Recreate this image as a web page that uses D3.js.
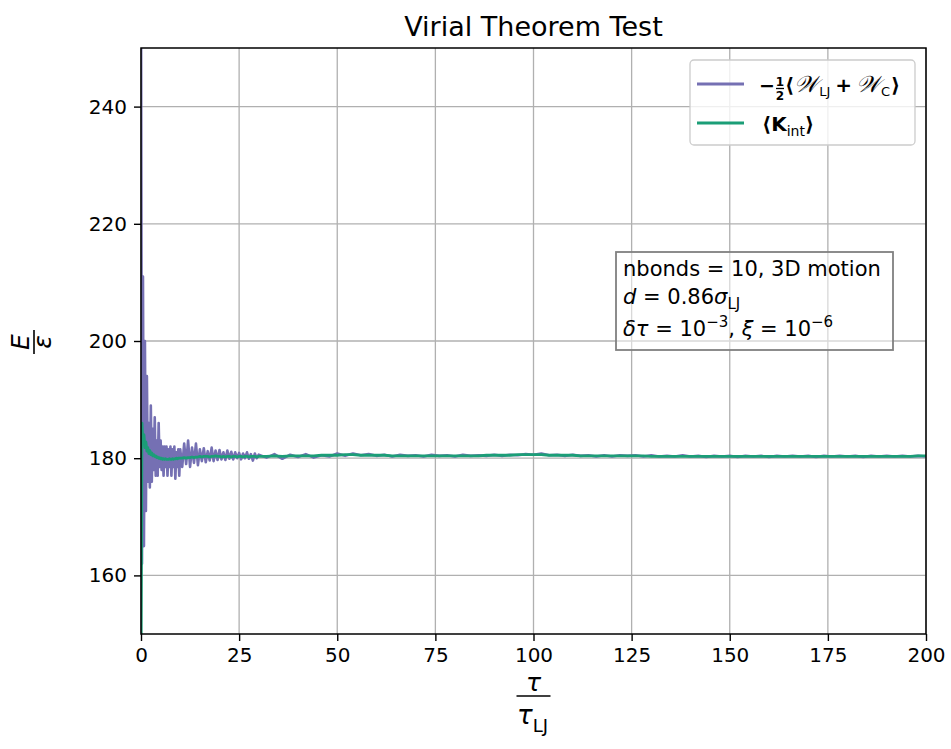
<!DOCTYPE html>
<html lang="en">
<head>
<meta charset="utf-8">
<title>Virial Theorem Test</title>
<script src="https://cdn.jsdelivr.net/npm/d3@7"></script>
<style>
  body { margin: 0; background: #fff; }
  text { font-family: "DejaVu Sans", sans-serif; }
</style>
</head>
<body>
<script>
var w = 951, h = 749;
var margin = {top: 48, right: 25, bottom: 115, left: 141};

// sampling times (tau / tau_LJ), three segments
var tEarly = d3.range(0, 10.001, 0.25);
var tMid = d3.range(10.5, 30.001, 0.5);
var tLate = d3.range(32, 200.001, 2);

// -1/2 <W_LJ + W_C>
var purpleEarly = [262,162,211,165,200,171,194,176,186,175,
  189,176,185,178,187,177,183,177,186,178.5,
  183,178,182,177,182,178.5,182,177,181.5,178.5,
  182,177,181.5,178.5,182,176.5,181,178.5,181.5,177,
  181.5];
var purpleMid = [178.5,182.5,179,183,178.5,181.8,179.2,182.5,178.8,181.5,
  179.5,181.7,179.3,181.2,179.6,181.8,179.5,181.3,179.7,181.4,
  179.8,181.0,179.7,181.3,179.9,181.1,179.8,181.0,180.0,180.9,
  179.8,180.8,180.0,181.0,179.9,180.7,179.6,180.8,180.0,180.6];
var purpleLate = [180.1,180.7,179.9,180.6,180.2,180.7,180.1,180.5,180.3,180.8,
  180.4,180.8,180.5,180.7,180.4,180.6,180.3,180.6,180.4,180.5,
  180.3,180.6,180.4,180.5,180.3,180.6,180.4,180.5,180.4,180.6,
  180.4,180.6,180.5,180.7,180.6,180.8,180.5,180.6,180.4,180.6,
  180.4,180.5,180.3,180.5,180.3,180.5,180.4,180.5,180.3,180.5,
  180.3,180.4,180.3,180.5,180.3,180.4,180.2,180.4,180.3,180.4,
  180.2,180.4,180.3,180.4,180.2,180.4,180.3,180.4,180.3,180.4,
  180.2,180.4,180.3,180.4,180.3,180.4,180.2,180.4,180.3,180.4,
  180.3,180.4,180.3,180.4,180.3];

// <K_int>
var greenEarly = [140,186,182.5,184,181.8,182.8,181.2,181.8,180.8,181.3,
  180.6,180.9,180.4,180.6,180.3,180.4,180.1,180.2,180.0,180.1,
  179.9,180.0,179.8,179.9,179.8,179.9,179.8,179.8,179.8,179.9,
  179.8,179.8,179.9,179.8,179.9,179.9,180.0,179.9,180.0,180.0,
  180.0];
var greenMid = [180.0,180.1,180.0,180.1,180.1,180.2,180.1,180.2,180.2,180.3,
  180.2,180.3,180.3,180.3,180.2,180.3,180.3,180.4,180.3,180.3,
  180.2,180.3,180.2,180.3,180.3,180.2,180.3,180.3,180.2,180.3,
  180.3,180.2,180.3,180.3,180.2,180.3,180.3,180.3,180.2,180.3];
var greenLate = [180.3,180.4,180.3,180.4,180.4,180.4,180.4,180.5,180.5,180.5,
  180.6,180.6,180.5,180.5,180.5,180.5,180.4,180.4,180.4,180.4,
  180.4,180.4,180.4,180.4,180.4,180.4,180.4,180.4,180.5,180.5,
  180.5,180.5,180.6,180.6,180.6,180.6,180.5,180.5,180.5,180.5,
  180.4,180.4,180.4,180.4,180.4,180.4,180.4,180.4,180.4,180.3,
  180.3,180.3,180.3,180.3,180.3,180.3,180.3,180.3,180.3,180.3,
  180.3,180.3,180.3,180.3,180.3,180.3,180.3,180.3,180.3,180.3,
  180.3,180.3,180.3,180.3,180.3,180.3,180.3,180.3,180.3,180.3,
  180.3,180.3,180.3,180.4,180.4];

var xTicks = [0, 25, 50, 75, 100, 125, 150, 175, 200];
var yTicks = [160, 180, 200, 220, 240];

var purpleColor = "#7570b3", greenColor = "#1b9e77";

function zip(ts, vs) {
  var out = [];
  for (var i = 0; i < Math.min(ts.length, vs.length); i++) out.push([ts[i], vs[i]]);
  return out;
}
var times = tEarly.concat(tMid, tLate);
var purple = zip(times, purpleEarly.concat(purpleMid, purpleLate));
var green = zip(times, greenEarly.concat(greenMid, greenLate));

var xScale = d3.scaleLinear().domain([0, 200]).range([margin.left, w - margin.right]);
var yScale = d3.scaleLinear().domain([150, 250]).range([h - margin.bottom, margin.top]);

var svg = d3.select("body").append("svg")
  .attr("width", w).attr("height", h);

svg.append("defs").append("clipPath").attr("id", "plotclip")
  .append("rect")
  .attr("x", margin.left).attr("y", margin.top)
  .attr("width", w - margin.left - margin.right)
  .attr("height", h - margin.top - margin.bottom);

// grid
svg.append("g").selectAll("line").data(xTicks).enter().append("line")
  .attr("x1", d => xScale(d)).attr("x2", d => xScale(d))
  .attr("y1", margin.top).attr("y2", h - margin.bottom)
  .attr("stroke", "#b0b0b0").attr("stroke-width", 1.3);
svg.append("g").selectAll("line").data(yTicks).enter().append("line")
  .attr("y1", d => yScale(d)).attr("y2", d => yScale(d))
  .attr("x1", margin.left).attr("x2", w - margin.right)
  .attr("stroke", "#b0b0b0").attr("stroke-width", 1.3);

// series
var line = d3.line().x(d => xScale(d[0])).y(d => yScale(d[1]));
var plot = svg.append("g").attr("clip-path", "url(#plotclip)");
plot.append("path").datum(purple).attr("d", line)
  .attr("fill", "none").attr("stroke", purpleColor).attr("stroke-width", 2.6)
  .attr("stroke-linejoin", "round");
plot.append("path").datum(green).attr("d", line)
  .attr("fill", "none").attr("stroke", greenColor).attr("stroke-width", 2.8)
  .attr("stroke-linejoin", "round");

// axes
var xAxis = d3.axisBottom(xScale).tickValues(xTicks).tickSize(7).tickPadding(7);
var yAxis = d3.axisLeft(yScale).tickValues(yTicks).tickSize(7).tickPadding(7);
var gx = svg.append("g").attr("transform", "translate(0," + (h - margin.bottom) + ")").call(xAxis);
var gy = svg.append("g").attr("transform", "translate(" + margin.left + ",0)").call(yAxis);
[gx, gy].forEach(function(g) {
  g.select(".domain").remove();
  g.selectAll(".tick line").attr("stroke", "#000").attr("stroke-width", 1.4);
  g.selectAll(".tick text").attr("font-family", "DejaVu Sans").attr("font-size", 20).attr("fill", "#000");
});

// frame
svg.append("rect")
  .attr("x", margin.left).attr("y", margin.top)
  .attr("width", w - margin.left - margin.right)
  .attr("height", h - margin.top - margin.bottom)
  .attr("fill", "none").attr("stroke", "#000").attr("stroke-width", 1.5);

// title
svg.append("text").attr("x", (margin.left + w - margin.right) / 2).attr("y", 36)
  .attr("text-anchor", "middle").attr("font-size", 27).text("Virial Theorem Test");

// x label: tau / tau_LJ
var xl = svg.append("g").attr("transform", "translate(" + (margin.left + w - margin.right) / 2 + ",0)");
xl.append("text").attr("x", 0).attr("y", 691).attr("text-anchor", "middle")
  .attr("font-size", 25).attr("font-style", "italic").text("τ");
xl.append("line").attr("x1", -17).attr("x2", 17).attr("y1", 696).attr("y2", 696)
  .attr("stroke", "#000").attr("stroke-width", 1.7);
var xlb = xl.append("text").attr("x", -1).attr("y", 724).attr("text-anchor", "middle").attr("font-size", 26);
xlb.append("tspan").attr("font-style", "italic").text("τ");
xlb.append("tspan").attr("font-size", 18).attr("dy", 8).text("LJ");

// y label: E / epsilon (rotated)
var yl = svg.append("g").attr("transform", "translate(34,342) rotate(-90)");
yl.append("text").attr("x", 0).attr("y", -5).attr("text-anchor", "middle")
  .attr("font-size", 25).attr("font-style", "italic").text("E");
yl.append("line").attr("x1", -12).attr("x2", 12).attr("y1", 0).attr("y2", 0)
  .attr("stroke", "#000").attr("stroke-width", 1.6);
yl.append("text").attr("x", 0).attr("y", 17).attr("text-anchor", "middle")
  .attr("font-size", 25).attr("font-style", "italic").text("ε");

// legend
var lg = svg.append("g");
lg.append("rect").attr("x", 690).attr("y", 60).attr("width", 225).attr("height", 85)
  .attr("rx", 4).attr("fill", "#fff").attr("fill-opacity", 0.8)
  .attr("stroke", "#cccccc").attr("stroke-width", 1.3);
lg.append("line").attr("x1", 697).attr("x2", 744).attr("y1", 84).attr("y2", 84)
  .attr("stroke", purpleColor).attr("stroke-width", 2.8);
lg.append("line").attr("x1", 697).attr("x2", 744).attr("y1", 123).attr("y2", 123)
  .attr("stroke", greenColor).attr("stroke-width", 2.8);

// entry 1: minus, small fraction 1/2, then the bracket expression laid out in flow
lg.append("text").attr("x", 759).attr("y", 92).attr("font-size", 19).attr("font-weight", "bold").text("−");
lg.append("text").attr("x", 780).attr("y", 86).attr("text-anchor", "middle").attr("font-size", 12).attr("font-weight", "bold").text("1");
lg.append("text").attr("x", 780).attr("y", 100).attr("text-anchor", "middle").attr("font-size", 12).attr("font-weight", "bold").text("2");
lg.append("line").attr("x1", 776).attr("x2", 784).attr("y1", 88.5).attr("y2", 88.5)
  .attr("stroke", "#000").attr("stroke-width", 1.3);
var t1 = lg.append("text").attr("x", 785).attr("y", 92).attr("font-size", 20).attr("font-weight", "bold");
t1.append("tspan").text("⟨");
t1.append("tspan").attr("font-size", 23).attr("font-weight", "normal").attr("font-style", "italic").text("𝒲");
t1.append("tspan").attr("font-size", 13).attr("font-weight", "normal").attr("dy", 4).attr("dx", 1).text("LJ");
t1.append("tspan").attr("dy", -4).attr("dx", 5).text("+");
t1.append("tspan").attr("font-size", 23).attr("font-weight", "normal").attr("font-style", "italic").attr("dx", 4).text("𝒲");
t1.append("tspan").attr("font-size", 13).attr("font-weight", "normal").attr("dy", 4).attr("dx", 1).text("C");
t1.append("tspan").attr("dy", -4).attr("dx", 1).text("⟩");

var t2 = lg.append("text").attr("x", 762).attr("y", 131).attr("font-size", 20).attr("font-weight", "bold");
t2.append("tspan").text("⟨K");
t2.append("tspan").attr("font-size", 14).attr("font-weight", "normal").attr("dy", 5).text("int");
t2.append("tspan").attr("dy", -5).text("⟩");

// annotation box
var ab = svg.append("g");
ab.append("rect").attr("x", 616).attr("y", 252).attr("width", 277).attr("height", 98)
  .attr("fill", "#fff").attr("fill-opacity", 0.5)
  .attr("stroke", "#808080").attr("stroke-width", 1.8);
var a1 = ab.append("text").attr("x", 623).attr("y", 276).attr("font-size", 21);
a1.text("nbonds = 10, 3D motion");
var a2 = ab.append("text").attr("x", 623).attr("y", 304).attr("font-size", 21);
a2.append("tspan").attr("font-style", "italic").text("d");
a2.append("tspan").text(" = 0.86");
a2.append("tspan").attr("font-style", "italic").text("σ");
a2.append("tspan").attr("font-size", 15).attr("dy", 5).text("LJ");
var a3 = ab.append("text").attr("x", 623).attr("y", 336).attr("font-size", 21);
a3.append("tspan").attr("font-style", "italic").text("δτ");
a3.append("tspan").text(" = 10");
a3.append("tspan").attr("font-size", 15).attr("dy", -9).text("−3");
a3.append("tspan").attr("dy", 9).text(", ");
a3.append("tspan").attr("font-style", "italic").text("ξ");
a3.append("tspan").text(" = 10");
a3.append("tspan").attr("font-size", 15).attr("dy", -9).text("−6");
</script>
</body>
</html>
